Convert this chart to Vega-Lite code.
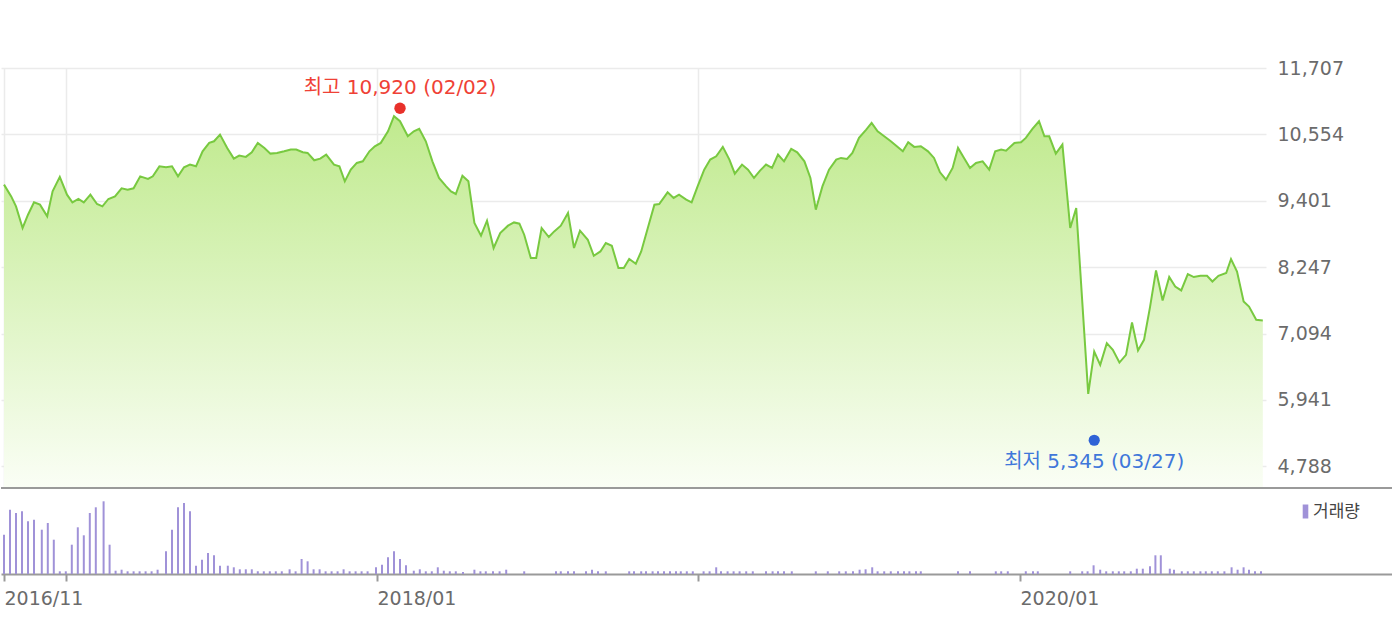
{
  "$schema": "https://vega.github.io/schema/vega-lite/v6.json",
  "padding": {"top": 59, "left": 0, "right": 0, "bottom": 0},
  "background": "white",
  "config": {"view": {"stroke": null}, "font": "DejaVu Sans"},
  "spacing": 0,
  "resolve": {"scale": {"x": "independent", "y": "independent", "color": "independent"}},
  "datasets": {
    "price": [
      {"w":0,"p":9681},{"w":1.2,"p":9477},{"w":2,"p":9304},{"w":3.1,"p":8928},{"w":4,"p":9159},{"w":5,"p":9373},{"w":6,"p":9333},{"w":7.2,"p":9130},{"w":8.1,"p":9564},{"w":9.3,"p":9815},
      {"w":10.5,"p":9507},{"w":11.4,"p":9373},{"w":12.4,"p":9432},{"w":13.3,"p":9373},{"w":14.4,"p":9507},{"w":15.5,"p":9345},{"w":16.4,"p":9304},{"w":17.4,"p":9432},{"w":18.5,"p":9477},{"w":19.6,"p":9617},
      {"w":20.6,"p":9594},{"w":21.6,"p":9617},{"w":22.7,"p":9825},{"w":24,"p":9780},{"w":24.8,"p":9825},{"w":25.9,"p":9999},{"w":27,"p":9982},{"w":28,"p":9999},{"w":29,"p":9825},{"w":30,"p":9982},
      {"w":31,"p":10029},{"w":32,"p":9999},{"w":33.1,"p":10260},{"w":34.2,"p":10406},{"w":35,"p":10434},{"w":36,"p":10550},{"w":37.2,"p":10319},{"w":38.3,"p":10133},{"w":39.2,"p":10185},{"w":40.3,"p":10163},
      {"w":41.3,"p":10243},{"w":42.3,"p":10406},{"w":43.4,"p":10319},{"w":44.4,"p":10220},{"w":45.5,"p":10232},{"w":46.7,"p":10260},{"w":47.8,"p":10290},{"w":48.7,"p":10290},{"w":49.8,"p":10243},{"w":50.6,"p":10232},
      {"w":51.7,"p":10104},{"w":52.7,"p":10133},{"w":53.7,"p":10203},{"w":55,"p":10029},{"w":55.9,"p":9999},{"w":56.8,"p":9738},{"w":57.8,"p":9942},{"w":58.8,"p":10058},{"w":59.8,"p":10086},{"w":60.9,"p":10260},
      {"w":61.8,"p":10347},{"w":62.8,"p":10406},{"w":64,"p":10608},{"w":65,"p":10869},{"w":66,"p":10782},{"w":67.3,"p":10521},{"w":68.3,"p":10608},{"w":69.2,"p":10650},{"w":70.3,"p":10434},{"w":71.4,"p":10086},
      {"w":72.5,"p":9797},{"w":73.7,"p":9651},{"w":74.5,"p":9564},{"w":75.3,"p":9519},{"w":76.4,"p":9837},{"w":77.4,"p":9738},{"w":78.4,"p":9015},{"w":79.5,"p":8794},{"w":80.5,"p":9055},{"w":81.6,"p":8580},
      {"w":82.7,"p":8841},{"w":84,"p":8968},{"w":85,"p":9025},{"w":85.9,"p":9003},{"w":86.7,"p":8811},{"w":87.8,"p":8406},{"w":88.7,"p":8406},{"w":89.6,"p":8928},{"w":90.8,"p":8771},{"w":91.7,"p":8869},
      {"w":92.8,"p":8968},{"w":94,"p":9189},{"w":95,"p":8580},{"w":96,"p":8881},{"w":97.3,"p":8724},{"w":98.3,"p":8446},{"w":99.4,"p":8521},{"w":100.3,"p":8667},{"w":101.3,"p":8620},{"w":102.4,"p":8232},
      {"w":103.3,"p":8232},{"w":104.2,"p":8389},{"w":105.3,"p":8307},{"w":106.2,"p":8521},{"w":107.3,"p":8928},{"w":108.4,"p":9333},{"w":109.2,"p":9345},{"w":110.6,"p":9547},{"w":111.6,"p":9450},{"w":112.5,"p":9507},
      {"w":113.7,"p":9420},{"w":114.6,"p":9373},{"w":115.6,"p":9651},{"w":116.7,"p":9942},{"w":117.7,"p":10116},{"w":118.7,"p":10173},{"w":119.8,"p":10337},{"w":120.9,"p":10116},{"w":121.8,"p":9872},{"w":123,"p":10029},
      {"w":124,"p":9942},{"w":125,"p":9797},{"w":126,"p":9924},{"w":127,"p":10029},{"w":128,"p":9971},{"w":129,"p":10203},{"w":130,"p":10086},{"w":131.2,"p":10302},{"w":132.2,"p":10243},{"w":133.4,"p":10086},
      {"w":134.4,"p":9797},{"w":135.3,"p":9246},{"w":136.4,"p":9651},{"w":137.5,"p":9942},{"w":138.7,"p":10116},{"w":139.5,"p":10145},{"w":140.5,"p":10128},{"w":141.4,"p":10232},{"w":142.5,"p":10493},{"w":143.7,"p":10637},
      {"w":144.6,"p":10754},{"w":145.6,"p":10608},{"w":146.7,"p":10521},{"w":147.8,"p":10434},{"w":148.8,"p":10347},{"w":149.8,"p":10260},{"w":150.7,"p":10417},{"w":151.7,"p":10337},{"w":152.8,"p":10347},{"w":154,"p":10260},
      {"w":155,"p":10145},{"w":156,"p":9895},{"w":157,"p":9768},{"w":158.1,"p":9971},{"w":159,"p":10319},{"w":160,"p":10145},{"w":161,"p":9971},{"w":162,"p":10058},{"w":163.1,"p":10086},{"w":164.2,"p":9942},
      {"w":165.2,"p":10260},{"w":166.2,"p":10290},{"w":167,"p":10272},{"w":168.4,"p":10406},{"w":169.5,"p":10417},{"w":170.3,"p":10493},{"w":171.4,"p":10650},{"w":172.5,"p":10782},{"w":173.4,"p":10521},{"w":174.2,"p":10521},
      {"w":175.3,"p":10220},{"w":176.4,"p":10377},{"w":177.7,"p":8928},{"w":178.7,"p":9276},{"w":180.7,"p":6046},{"w":181.7,"p":6782},{"w":182.7,"p":6551},{"w":183.8,"p":6928},{"w":184.8,"p":6811},{"w":185.9,"p":6591},
      {"w":187,"p":6724},{"w":188,"p":7286},{"w":189,"p":6799},{"w":190,"p":6985},{"w":191,"p":7554},{"w":192,"p":8191},{"w":193.1,"p":7669},{"w":194.2,"p":8076},{"w":195.2,"p":7912},{"w":196.2,"p":7843},
      {"w":197.3,"p":8128},{"w":198.3,"p":8076},{"w":199.4,"p":8098},{"w":200.5,"p":8098},{"w":201.4,"p":7999},{"w":202.4,"p":8098},{"w":203.7,"p":8145},{"w":204.5,"p":8389},{"w":205.5,"p":8173},{"w":206.6,"p":7651},
      {"w":207.5,"p":7564},{"w":208.7,"p":7333},{"w":209.8,"p":7321}
    ],
    "marks": [
      {"w":66,"p":10920,"kind":"high","label":"최고 10,920 (02/02)"},
      {"w":181.7,"p":5345,"kind":"low","label":"최저 5,345 (03/27)"}
    ],
    "vol": [
      {"w":0,"v":39300},{"w":1,"v":64300},{"w":2,"v":61000},{"w":3,"v":62700},{"w":4,"v":52700},{"w":5,"v":54300},{"w":6.3,"v":44300},{"w":7.3,"v":51000},{"w":8.3,"v":34300},{"w":9.3,"v":2700},
      {"w":10.3,"v":2700},{"w":11.3,"v":29300},{"w":12.3,"v":46700},{"w":13.3,"v":38700},{"w":14.3,"v":61000},{"w":15.3,"v":66700},{"w":16.6,"v":72700},{"w":17.6,"v":29300},{"w":18.6,"v":3300},{"w":19.6,"v":4300},
      {"w":20.6,"v":2700},{"w":21.6,"v":2700},{"w":22.6,"v":2700},{"w":23.6,"v":2700},{"w":24.6,"v":2700},{"w":25.6,"v":4300},{"w":27,"v":22700},{"w":28,"v":44300},{"w":29,"v":66700},{"w":30,"v":71000},
      {"w":31,"v":62700},{"w":32,"v":8300},{"w":33,"v":14300},{"w":34,"v":21000},{"w":35,"v":18700},{"w":36,"v":8300},{"w":37.3,"v":8300},{"w":38.3,"v":6700},{"w":39.3,"v":4700},{"w":40.3,"v":4700},
      {"w":41.3,"v":4700},{"w":42.3,"v":2700},{"w":43.3,"v":2700},{"w":44.3,"v":2700},{"w":45.3,"v":2700},{"w":46.3,"v":2700},{"w":47.6,"v":4700},{"w":48.6,"v":2700},{"w":49.6,"v":15000},{"w":50.6,"v":12700},
      {"w":51.6,"v":4700},{"w":52.6,"v":4700},{"w":53.6,"v":2700},{"w":54.6,"v":2700},{"w":55.6,"v":2700},{"w":56.6,"v":4700},{"w":57.6,"v":2700},{"w":58.6,"v":2700},{"w":59.6,"v":2700},{"w":60.6,"v":2700},
      {"w":62,"v":6700},{"w":63,"v":9300},{"w":64,"v":16700},{"w":65,"v":22700},{"w":66,"v":15000},{"w":67,"v":8700},{"w":68.3,"v":3300},{"w":69.3,"v":4700},{"w":70.3,"v":2700},{"w":71.3,"v":2700},
      {"w":72.3,"v":6700},{"w":73.3,"v":3300},{"w":74.3,"v":2700},{"w":75.3,"v":2700},{"w":76.5,"v":2000},{"w":78.4,"v":4300},{"w":79.4,"v":2700},{"w":80.3,"v":2700},{"w":81.5,"v":2700},{"w":82.6,"v":2700},
      {"w":83.7,"v":4300},{"w":86.7,"v":2700},{"w":92,"v":2700},{"w":92.8,"v":2700},{"w":94,"v":2700},{"w":95,"v":2700},{"w":97,"v":2700},{"w":98,"v":4300},{"w":99,"v":2700},{"w":100.3,"v":2700},
      {"w":104.2,"v":2700},{"w":105,"v":2700},{"w":106.2,"v":2700},{"w":107,"v":2700},{"w":108.1,"v":2700},{"w":109,"v":2700},{"w":110,"v":2700},{"w":111,"v":2700},{"w":112,"v":2700},{"w":112.8,"v":2700},
      {"w":113.8,"v":2700},{"w":114.8,"v":2700},{"w":116.6,"v":2700},{"w":117.6,"v":2700},{"w":118.7,"v":6700},{"w":119.5,"v":2700},{"w":120.6,"v":2700},{"w":121.6,"v":2700},{"w":122.6,"v":2700},{"w":123.7,"v":2700},
      {"w":124.8,"v":2700},{"w":127,"v":2700},{"w":128.1,"v":2700},{"w":129,"v":2700},{"w":130,"v":2700},{"w":131.3,"v":2700},{"w":135.3,"v":2700},{"w":137.3,"v":2700},{"w":139.2,"v":2700},{"w":140.3,"v":2700},
      {"w":141.5,"v":2700},{"w":142.6,"v":4300},{"w":143.6,"v":4700},{"w":144.7,"v":6700},{"w":145.6,"v":2700},{"w":146.7,"v":2700},{"w":147.8,"v":2700},{"w":149,"v":2700},{"w":150,"v":2700},{"w":150.9,"v":2700},
      {"w":152,"v":2700},{"w":152.8,"v":2700},{"w":159,"v":2700},{"w":161,"v":2700},{"w":165.3,"v":2700},{"w":166.2,"v":2700},{"w":167.3,"v":2700},{"w":170.3,"v":2700},{"w":171.5,"v":2700},{"w":172.3,"v":2700},
      {"w":177.7,"v":2700},{"w":179.7,"v":2700},{"w":180.6,"v":2700},{"w":181.6,"v":8700},{"w":182.7,"v":4300},{"w":183.7,"v":2700},{"w":184.8,"v":2700},{"w":185.8,"v":2700},{"w":186.7,"v":2700},{"w":187.8,"v":2700},
      {"w":188.8,"v":5300},{"w":189.8,"v":5300},{"w":191,"v":7700},{"w":191.9,"v":18700},{"w":192.8,"v":18700},{"w":194.3,"v":5300},{"w":195,"v":4300},{"w":196.3,"v":2700},{"w":197.3,"v":2700},{"w":198.3,"v":2700},
      {"w":199.4,"v":2700},{"w":200.3,"v":2700},{"w":201.3,"v":2700},{"w":202.3,"v":2700},{"w":203.4,"v":2700},{"w":204.6,"v":6700},{"w":205.6,"v":4300},{"w":206.6,"v":6700},{"w":207.5,"v":4300},{"w":208.5,"v":2700},
      {"w":209.5,"v":2700}
    ]
  },
  "vconcat": [
    {
      "width": 1265,
      "height": 419,
      "encoding": {
        "x": {"field": "w", "type": "quantitative",
          "scale": {"domain": [-0.5, 210.33], "nice": false, "zero": false, "padding": 0},
          "axis": {"values": [0, 10.33, 62.17, 115.67, 169.33], "grid": true, "gridColor": "#ebebeb", "gridWidth": 1.5,
                   "labels": false, "ticks": false, "domain": false, "title": null}},
        "y": {"field": "p", "type": "quantitative",
          "scale": {"domain": [4429, 11707], "nice": false, "zero": false},
          "axis": {"orient": "right", "values": [4788, 5941, 7094, 8247, 9401, 10554, 11707], "format": ",d",
                   "grid": true, "gridColor": "#ebebeb", "gridWidth": 1.5, "ticks": false, "domain": false,
                   "labelPadding": 11, "labelFont": "DejaVu Sans", "labelFontSize": 19, "labelColor": "#6b6b6b",
                   "labelFlush": false, "labelBaseline": "middle", "title": null}}
      },
      "layer": [
        {
          "data": {"name": "price"},
          "mark": {"type": "area", "clip": true,
            "color": {"gradient": "linear", "x1": 0, "y1": 0, "x2": 0, "y2": 1,
              "stops": [{"offset": 0, "color": "#c0ea8e"}, {"offset": 1, "color": "#fafef5"}]}},
          "encoding": {"y2": {"datum": 4429}}
        },
        {
          "data": {"name": "price"},
          "mark": {"type": "line", "color": "#78c940", "strokeWidth": 2, "clip": true},
          "encoding": {}
        },
        {
          "data": {"name": "marks"},
          "transform": [{"filter": "datum.kind == 'high'"}],
          "layer": [
            {"mark": {"type": "point", "filled": true, "opacity": 1, "size": 130, "color": "#e8302a", "yOffset": -5}},
            {"mark": {"type": "text", "color": "#ef4136", "font": "DejaVu Sans, Noto Sans CJK KR", "fontSize": 20, "baseline": "middle", "align": "center", "yOffset": -25},
             "encoding": {"text": {"field": "label"}}}
          ]
        },
        {
          "data": {"name": "marks"},
          "transform": [{"filter": "datum.kind == 'low'"}],
          "layer": [
            {"mark": {"type": "point", "filled": true, "opacity": 1, "size": 125, "color": "#2f63d6", "yOffset": 6}},
            {"mark": {"type": "text", "color": "#3f77da", "font": "DejaVu Sans, Noto Sans CJK KR", "fontSize": 20, "baseline": "middle", "align": "center", "yOffset": 28},
             "encoding": {"text": {"field": "label"}}}
          ]
        }
      ]
    },
    {
      "width": 1392,
      "height": 86,
      "layer": [
        {
          "data": {"name": "vol"},
          "mark": {"type": "bar", "width": 2},
          "encoding": {
            "x": {"field": "w", "type": "quantitative",
              "scale": {"domain": [-0.5, 231.5], "nice": false, "zero": false, "padding": 0},
              "axis": {"values": [0, 10.33, 62.17, 115.67, 169.33],
                       "labelExpr": "datum.value < 1 ? '2016/11' : datum.value < 20 ? '' : datum.value < 70 ? '2018/01' : datum.value < 130 ? '' : '2020/01'",
                       "grid": false, "domainColor": "#9a9a9a", "domainWidth": 2, "tickColor": "#9a9a9a", "tickSize": 7, "tickWidth": 2,
                       "labelAlign": "left", "labelBaseline": "top", "labelPadding": 8, "labelDx": -2, "labelFont": "DejaVu Sans", "labelFontSize": 19,
                       "labelColor": "#6b6b6b", "labelFlush": false, "labelOverlap": false, "labelBound": false, "title": null}},
            "y": {"field": "v", "type": "quantitative", "scale": {"domain": [0, 86000], "nice": false}, "axis": null},
            "color": {"datum": "거래량", "type": "nominal", "scale": {"range": ["#a092d8"]},
              "legend": {"orient": "none", "legendX": 1296, "legendY": 15, "title": null,
                         "symbolType": "M-0.4,-1H0.4V1H-0.4Z", "symbolSize": 196, "symbolStrokeWidth": 0,
                         "labelFont": "Noto Sans CJK KR", "labelFontSize": 17, "labelColor": "#444444", "labelOffset": -1}}
          }
        },
        {
          "data": {"values": [{}]},
          "mark": {"type": "rule", "color": "#9a9a9a", "strokeWidth": 2},
          "encoding": {"y": {"datum": 86000, "type": "quantitative"}}
        }
      ]
    }
  ]
}
